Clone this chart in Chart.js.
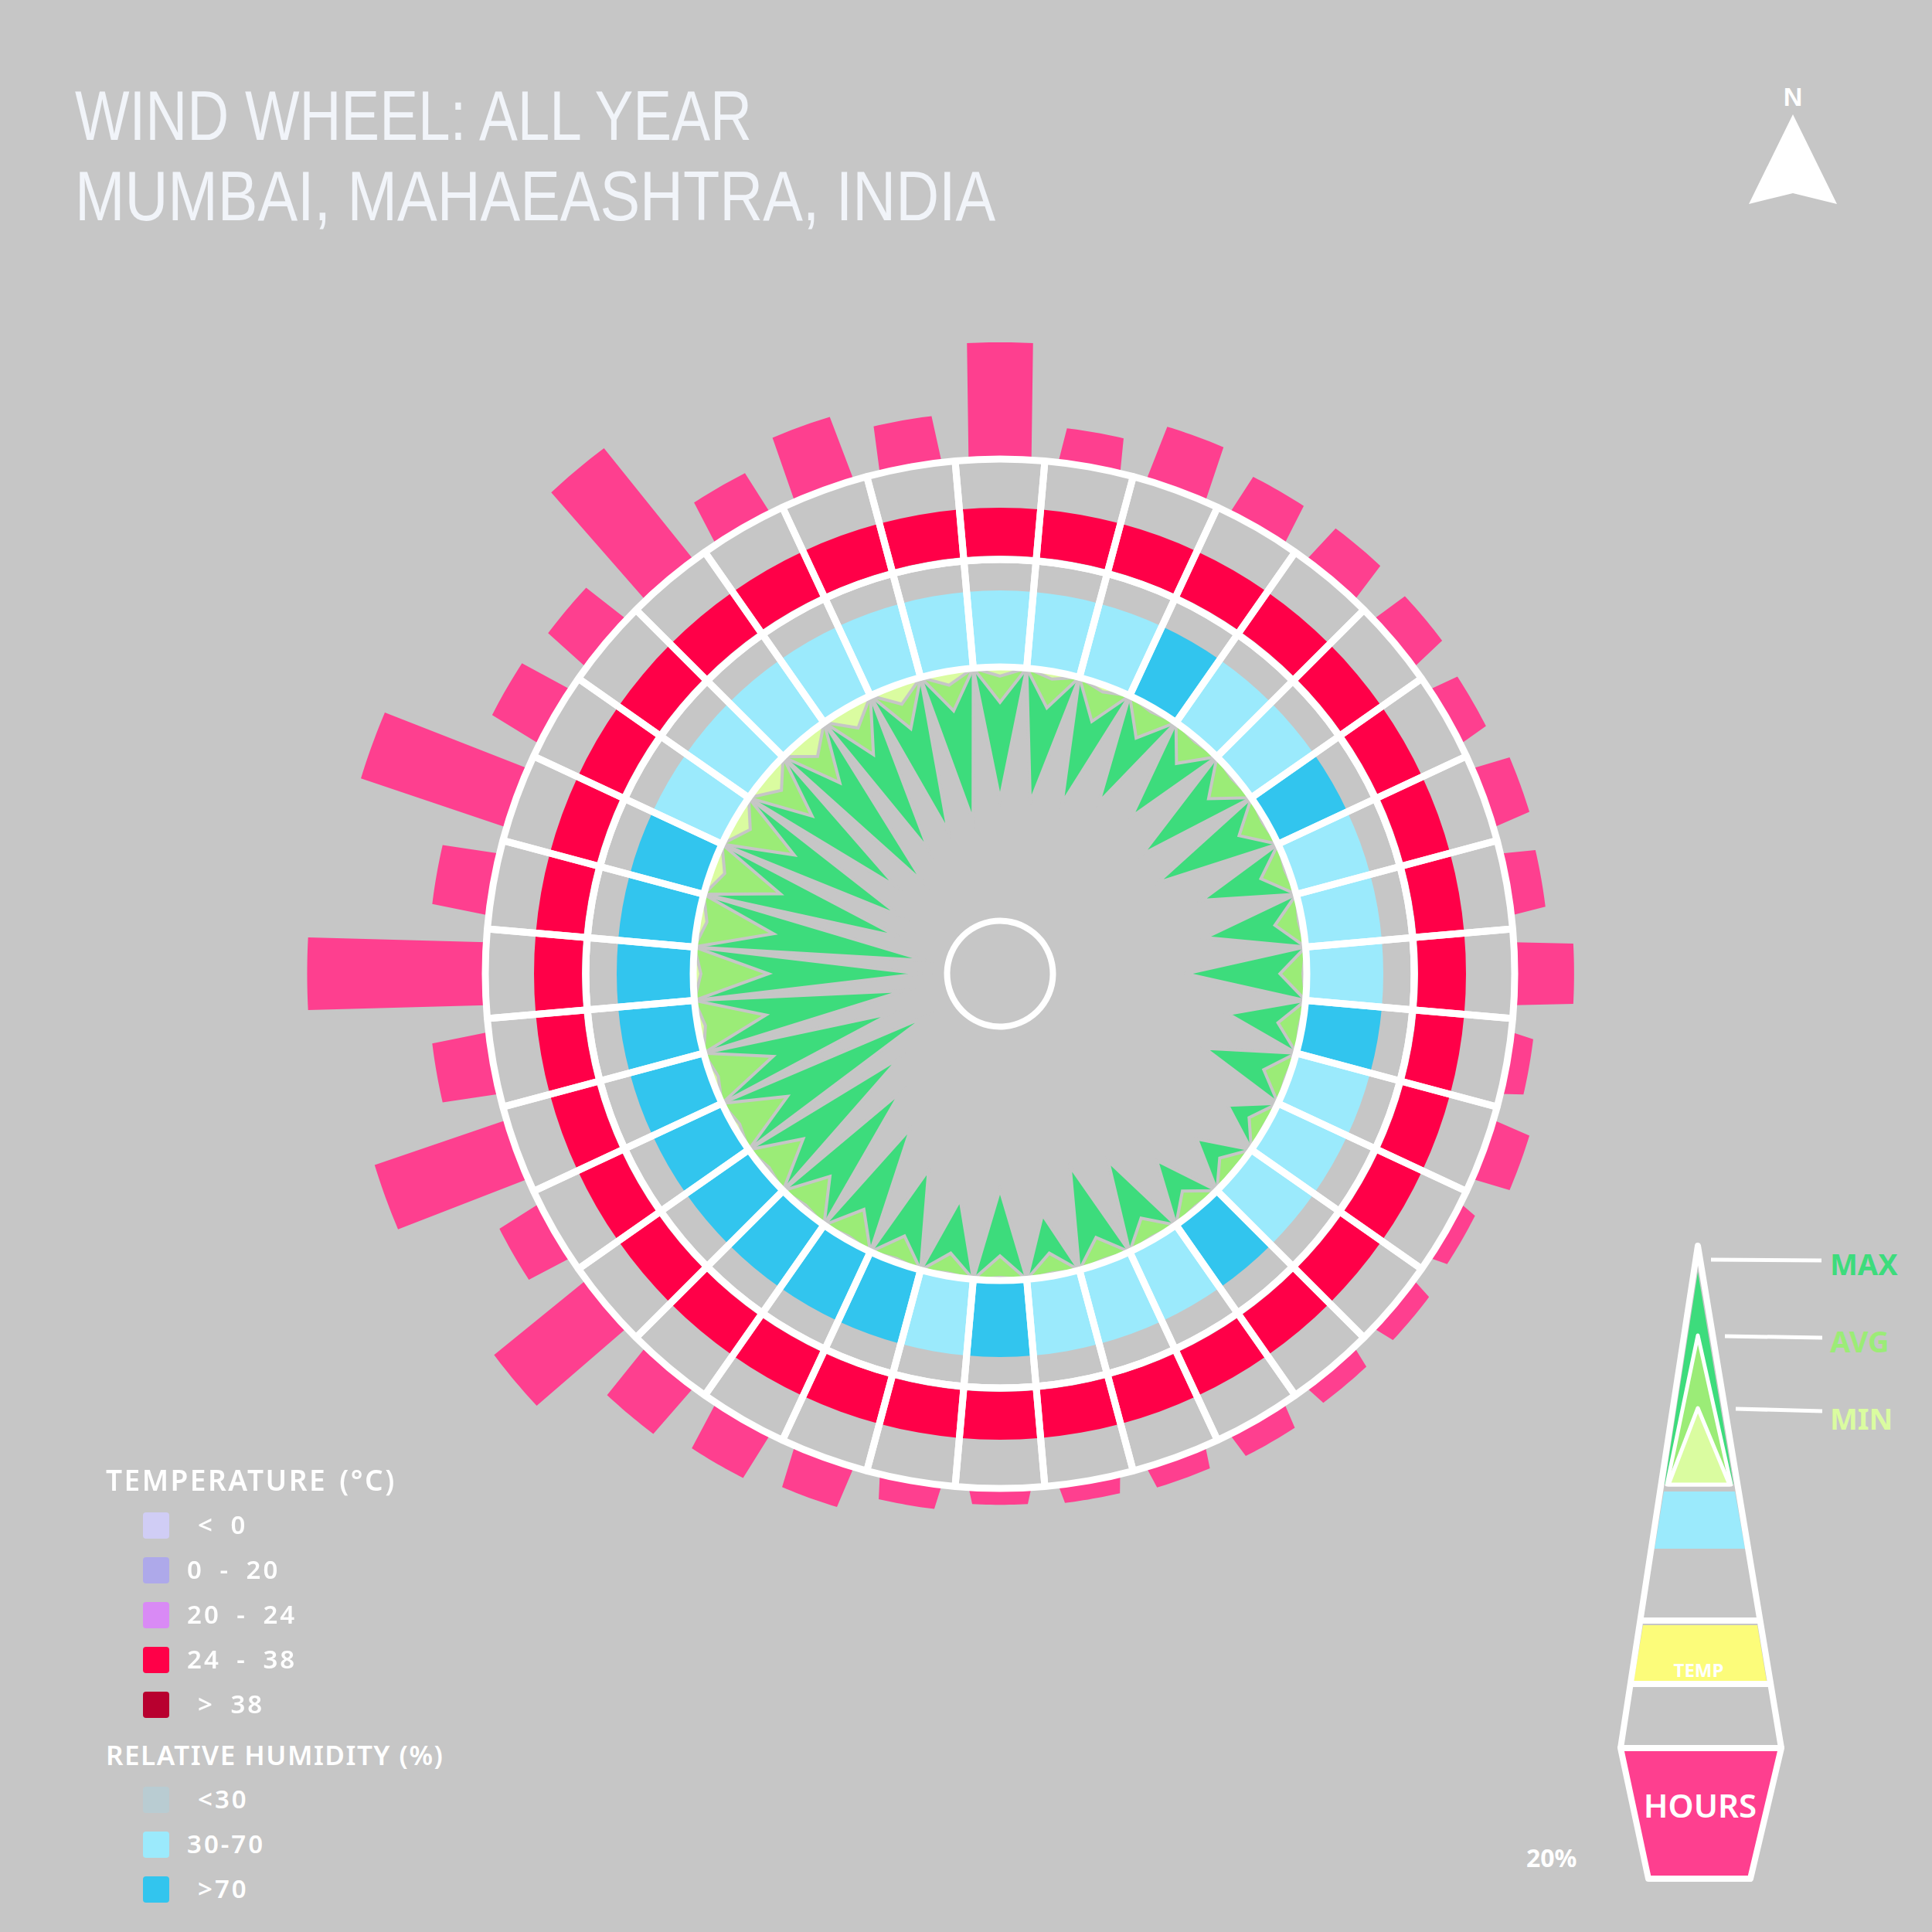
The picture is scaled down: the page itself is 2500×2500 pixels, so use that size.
<!DOCTYPE html>
<html>
<head>
<meta charset="utf-8">
<title>Wind Wheel: All Year - Mumbai</title>
<script src="https://cdn.jsdelivr.net/npm/chart.js@4.4.1/dist/chart.umd.min.js"></script>
<style>
  html, body { margin: 0; padding: 0; }
  body { width: 2500px; height: 2500px; background: #c6c6c6; position: relative; overflow: hidden; font-family: 'Noto Sans', sans-serif; }
  canvas.wheel { position: absolute; }
  .title { position: absolute; left: 97px; font-family: 'Liberation Sans', sans-serif; font-size: 90px; line-height: 90px; color: #f1f4f9; white-space: nowrap; transform-origin: 0 0; }
  .lg { position: absolute; color: #fff; font-weight: 600; white-space: pre; line-height: 1; }
  .sw { position: absolute; width: 34px; height: 34px; border-radius: 4px; }
</style>
</head>
<body>
<div class="title" style="top:105px; transform:scaleX(0.83)">WIND WHEEL: ALL YEAR</div>
<div class="title" style="top:209px; transform:scaleX(0.86)">MUMBAI, MAHAEASHTRA, INDIA</div>

<svg width="2500" height="2500" style="position:absolute;left:0;top:0">
  <!-- north arrow -->
  <text x="2320" y="137" text-anchor="middle" font-family="Liberation Sans" font-weight="bold" font-size="34" fill="#fff">N</text>
  <polygon points="2320,148 2377,264 2320,250 2263,264" fill="#fff"/>
  <!-- cone key -->
  <polygon points="2197,1646 2243,1921 2154,1921" fill="#3ddc7c"/>
  <polygon points="2197,1728 2240,1921 2157,1921" fill="#9bec77" stroke="#fff" stroke-width="5" stroke-linejoin="round"/>
  <polygon points="2197,1822 2238,1921 2159,1921" fill="#dafca0" stroke="#fff" stroke-width="5" stroke-linejoin="round"/>
  <polygon points="2153,1930 2245,1930 2258,2004 2141,2004" fill="#9beafc"/>
  <polygon points="2126,2103 2274,2103 2286,2175 2114,2175" fill="#fcfc7a"/>
  <line x1="2122" y1="2097" x2="2278" y2="2097" stroke="#fff" stroke-width="8"/>
  <line x1="2110" y1="2179" x2="2291" y2="2179" stroke="#fff" stroke-width="8"/>
  <polygon points="2097,2262 2305,2262 2265,2431 2133,2431" fill="#fe3f8f" stroke="#fff" stroke-width="8" stroke-linejoin="round"/>
  <path d="M2097,2262 L2197,1612 L2305,2262" fill="none" stroke="#fff" stroke-width="8" stroke-linejoin="round"/>
  <text x="2198" y="2170" text-anchor="middle" font-family="Noto Sans" font-weight="bold" font-size="24" fill="#fff">TEMP</text>
  <text x="2200" y="2352" text-anchor="middle" font-family="Noto Sans" font-weight="600" font-size="42" fill="#fff">HOURS</text>
  <line x1="2214" y1="1630" x2="2357" y2="1631" stroke="#fff" stroke-width="5"/>
  <line x1="2232" y1="1729" x2="2358" y2="1731" stroke="#fff" stroke-width="5"/>
  <line x1="2246" y1="1823" x2="2358" y2="1826" stroke="#fff" stroke-width="5"/>
  <text x="2368" y="1650" font-family="Noto Sans" font-weight="bold" font-size="38" fill="#3ddc7c">MAX</text>
  <text x="2368" y="1750" font-family="Noto Sans" font-weight="bold" font-size="38" fill="#9bec77">AVG</text>
  <text x="2368" y="1850" font-family="Noto Sans" font-weight="bold" font-size="38" fill="#dafca0">MIN</text>
  <text x="1975" y="2416" font-family="Noto Sans" font-weight="bold" font-size="32" fill="#fff">20%</text>
</svg>

<canvas id="hoursChart" class="wheel"></canvas>
<canvas id="ringChart" class="wheel"></canvas>
<canvas id="windChart" class="wheel"></canvas>
<canvas id="gridChart" class="wheel"></canvas>

<script>
// 36 directions, 10 degrees apart, clockwise from north
var directions = ['N', '10°', '20°', '30°', '40°', '50°', '60°', '70°', '80°', 'E', '100°', '110°',
                  '120°', '130°', '140°', '150°', '160°', '170°', 'S', '190°', '200°', '210°', '220°', '230°',
                  '240°', '250°', '260°', 'W', '280°', '290°', '300°', '310°', '320°', '330°', '340°', '350°'];

// share of hours the wind blows from each direction (%)
var hoursPct = [5.7, 1.7, 2.8, 2.1, 2.1, 1.9, 1.5, 1.9, 1.7, 2.9, 1.1, 1.9,
                0.9, 1.1, 1.1, 1.3, 1.1, 0.9, 0.8, 1.2, 2.1, 2.5, 3.0, 5.8,
                2.3, 6.8, 2.8, 8.7, 2.8, 7.5, 2.7, 2.5, 7.0, 2.3, 3.3, 2.3];

// wind speed per direction (km/h)
var windMax = [17.3, 17.3, 16.3, 14.2, 13.3, 15.8, 16.3, 12.0, 12.8, 15.8, 9.8, 11.6,
               5.7, 6.5, 8.2, 11.8, 13.3, 8.1, 11.9, 10.1, 12.8, 16.8, 19.8, 22.9,
               28.9, 24.9, 27.3, 29.6, 30.2, 25.9, 25.0, 22.4, 24.5, 21.4, 20.3, 19.8];
var windAvg = [4.6, 4.8, 5.0, 4.5, 4.2, 4.5, 4.0, 3.8, 3.6, 3.5, 3.2, 3.4,
               2.5, 2.6, 3.0, 3.2, 3.4, 3.0, 3.2, 3.0, 3.6, 4.5, 5.5, 6.5,
               8.0, 8.5, 9.0, 9.8, 10.0, 9.5, 9.0, 8.0, 7.5, 7.0, 6.0, 5.2];
var windMin = [1.2, 1.0, 0.9, 0.6, 0.5, 0.5, 0.5, 0.5, 0.5, 0.5, 0.4, 0.4,
               0.3, 0.3, 0.4, 0.4, 0.4, 0.4, 0.4, 0.4, 0.5, 0.5, 0.6, 0.7,
               0.8, 0.9, 1.0, 1.0, 1.2, 1.8, 2.4, 2.8, 3.0, 3.0, 2.6, 1.8];

// temperature and humidity class per direction
var tempBand = ['24 - 38', '24 - 38', '24 - 38', '24 - 38', '24 - 38', '24 - 38', '24 - 38', '24 - 38', '24 - 38', '24 - 38', '24 - 38', '24 - 38',
                '24 - 38', '24 - 38', '24 - 38', '24 - 38', '24 - 38', '24 - 38', '24 - 38', '24 - 38', '24 - 38', '24 - 38', '24 - 38', '24 - 38',
                '24 - 38', '24 - 38', '24 - 38', '24 - 38', '24 - 38', '24 - 38', '24 - 38', '24 - 38', '24 - 38', '24 - 38', '24 - 38', '24 - 38'];
var humidityBand = ['30-70', '30-70', '30-70', '>70', '30-70', '30-70', '>70', '30-70', '30-70', '30-70', '>70', '30-70',
                    '30-70', '30-70', '>70', '30-70', '30-70', '30-70', '>70', '30-70', '>70', '>70', '>70', '>70',
                    '>70', '>70', '>70', '>70', '>70', '>70', '30-70', '30-70', '30-70', '30-70', '30-70', '30-70'];

// legend classes
var tempClasses = ['< 0', '0 - 20', '20 - 24', '24 - 38', '> 38'];
var tempColors = ['#d0cdf5', '#aea9ea', '#d98af5', '#ff0048', '#b8002f'];
var humClasses = ['<30', '30-70', '>70'];
var humColors = ['#b9ccd2', '#9beafc', '#32c5ee'];

var CX = 1294, CY = 1260;          // wheel centre on the page
var BG = '#c6c6c6';

function place(id, size) {
    var c = document.getElementById(id);
    c.width = size;
    c.height = size;
    c.style.left = (CX - size / 2) + 'px';
    c.style.top = (CY - size / 2) + 'px';
    return c.getContext('2d');
}

var base = {
    responsive: false,
    animation: false,
    events: [],
    layout: { padding: 0 },
    plugins: { legend: { display: false }, tooltip: { enabled: false } }
};

function radarOptions(min, max, reverse) {
    return Object.assign({}, base, {
        elements: { point: { radius: 0 }, line: { tension: 0 } },
        scales: {
            r: {
                min: min, max: max, reverse: reverse,
                grid: { display: false, circular: true },
                angleLines: { display: false },
                ticks: { display: false },
                pointLabels: { display: false }
            }
        }
    });
}

// ---- hours bars (outside the wheel) ----
var PX_PER_PCT = 26.5, HOURS_BASE = 666, HOURS_TOP = 10;
var hourLabels = [], hourPoints = [];
for (var i = 0; i < 720; i++) {
    var off = ((i + 10) % 20) - 10;          // half-degree steps around each direction
    var k = Math.floor((i + 10) / 20) % 36;
    hourLabels.push('');
    hourPoints.push(Math.abs(off) <= 6 ? hoursPct[k] : 0);
}
var hoursMin = -HOURS_BASE / PX_PER_PCT;
var hoursSize = 2 * Math.round((HOURS_TOP - hoursMin) * PX_PER_PCT);
new Chart(place('hoursChart', hoursSize), {
    type: 'radar',
    data: {
        labels: hourLabels,
        datasets: [{ label: 'Hours (%)', data: hourPoints, fill: 'origin', backgroundColor: '#fe3f8f', borderWidth: 0 }]
    },
    options: radarOptions(hoursMin, HOURS_TOP, false)
});

// ---- temperature and humidity rings ----
var ones = directions.map(function () { return 1; });
new Chart(place('ringChart', 1230), {
    type: 'doughnut',
    data: {
        labels: directions,
        datasets: [
            { label: 'Temperature', data: ones, weight: 62, borderWidth: 0,
              backgroundColor: tempBand.map(function (b) { return tempColors[tempClasses.indexOf(b)]; }) },
            { label: 'gap', data: ones, weight: 45, borderWidth: 0, backgroundColor: 'rgba(0,0,0,0)' },
            { label: 'Humidity', data: ones, weight: 99, borderWidth: 0,
              backgroundColor: humidityBand.map(function (b) { return humColors[humClasses.indexOf(b)]; }) }
        ]
    },
    options: Object.assign({}, base, { radius: 603, cutout: (397 / 603 * 100) + '%', rotation: -5 })
});

// ---- wind speed spikes (measured inward from the rim) ----
var windLabels = [], maxPts = [], avgPts = [], minPts = [];
directions.forEach(function (d, j) {
    windLabels.push(d, '');
    maxPts.push(windMax[j], 0);
    avgPts.push(windAvg[j], 0);
    minPts.push(windMin[j], 0);
});
new Chart(place('windChart', 794), {
    type: 'radar',
    data: {
        labels: windLabels,
        datasets: [
            { label: 'Min', data: minPts, fill: 'origin', backgroundColor: '#dafca0', borderColor: BG, borderWidth: 4 },
            { label: 'Avg', data: avgPts, fill: 'origin', backgroundColor: '#9bec77', borderColor: BG, borderWidth: 4 },
            { label: 'Max', data: maxPts, fill: 'origin', backgroundColor: '#3ddc7c', borderColor: BG, borderWidth: 4 }
        ]
    },
    options: radarOptions(0, 40, true)
});

// ---- white grid: circles and spokes ----
new Chart(place('gridChart', 1360), {
    type: 'doughnut',
    data: {
        labels: directions,
        datasets: [
            { data: ones, weight: 130, backgroundColor: 'rgba(0,0,0,0)', borderColor: '#fff', borderWidth: 9 },
            { data: ones, weight: 139, backgroundColor: 'rgba(0,0,0,0)', borderColor: '#fff', borderWidth: 9 },
            { data: [1], weight: 324.5, backgroundColor: 'rgba(0,0,0,0)', borderWidth: 0 },
            { data: [1], weight: 8, backgroundColor: '#fff', borderWidth: 0 }
        ]
    },
    options: Object.assign({}, base, { radius: 666, cutout: (64.5 / 666 * 100) + '%', rotation: -5 })
});

// ---- legend, bottom left ----
function addText(txt, left, cy, size, spacing, wordGap) {
    var d = document.createElement('div');
    d.className = 'lg';
    d.textContent = txt;
    d.style.left = left + 'px';
    d.style.top = (cy - size * 0.55) + 'px';
    d.style.fontSize = size + 'px';
    d.style.letterSpacing = spacing + 'px';
    d.style.wordSpacing = wordGap + 'px';
    document.body.appendChild(d);
}
function addSwatch(color, cy) {
    var s = document.createElement('div');
    s.className = 'sw';
    s.style.left = '185px';
    s.style.top = (cy - 17) + 'px';
    s.style.background = color;
    document.body.appendChild(s);
}
function labelLeft(t) {
    return (t.charAt(0) === '<' || t.charAt(0) === '>') ? 256 : 242;
}
addText('TEMPERATURE (°C)', 137, 1916, 37, 2.5, 4);
tempClasses.forEach(function (t, j) {
    var y = 1974 + j * 58;
    addSwatch(tempColors[j], y);
    addText(t, labelLeft(t), y, 33, 3, 9);
});
addText('RELATIVE HUMIDITY (%)', 137, 2272, 35, 1.5, 0);
humClasses.forEach(function (t, j) {
    var y = 2329 + j * 58;
    addSwatch(humColors[j], y);
    addText(t, labelLeft(t), y, 33, 3, 9);
});
</script>
</body>
</html>
